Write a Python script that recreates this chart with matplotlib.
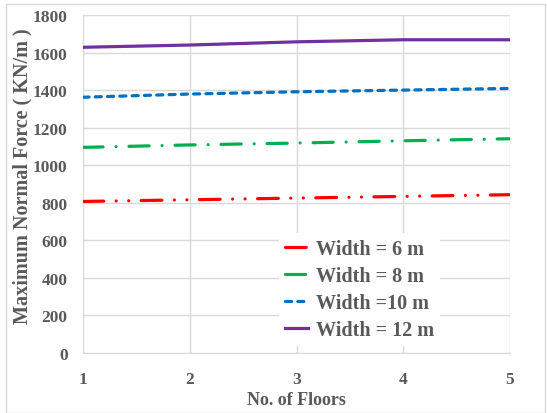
import matplotlib
matplotlib.use("Agg")
from matplotlib import pyplot as plt
from matplotlib.patches import Rectangle
from matplotlib.font_manager import FontProperties

floors = [1, 2, 3, 4, 5]
width_6 = [807, 816, 825, 834, 843]
width_8 = [1095, 1108, 1118, 1130, 1141]
width_10 = [1362, 1379, 1391, 1400, 1409]
width_12 = [1628, 1640, 1657, 1668, 1668]
labels = ["Width = 6 m", "Width = 8 m", "Width =10 m", "Width = 12 m"]

text_color = "#595959"
plt.rcParams['font.family'] = ['Liberation Serif', 'DejaVu Serif']
plt.rcParams['font.weight'] = 'bold'


def bold(size):
    return FontProperties(family='Liberation Serif', weight='bold', size=size)


fig = plt.figure(figsize=(5.47, 4.14), dpi=100)
ax = fig.add_axes([0.1517, 0.1449, 0.7807, 0.8165])

# thin frame around the whole chart
fig.patches.append(Rectangle((0.011, 0.0), 0.985, 0.988, transform=fig.transFigure,
                             fill=False, edgecolor="#d9d9d9", linewidth=1))

lw = 2.3
ax.plot(floors, width_6, color="#ff0000", lw=lw, dashes=(6.5, 3.9, 0.01, 3.9, 0.01, 3.9),
        dash_capstyle='round', label=labels[0])
ax.plot(floors, width_8, color="#00b050", lw=lw, dashes=(6.3, 4.05, 0.01, 4.05),
        dash_capstyle='round', label=labels[1])
ax.plot(floors, width_10, color="#0070c0", lw=lw, dashes=(1.9, 1.95),
        dash_capstyle='round', label=labels[2])
ax.plot(floors, width_12, color="#7030a0", lw=lw, label=labels[3])

ax.set_xlim(1, 5)
ax.set_ylim(0, 1800)
ax.set_xticks(floors)
ax.set_yticks(range(0, 1801, 200))
ax.grid(True, color="#d9d9d9", linewidth=1)
ax.set_axisbelow(True)
for side in ['top', 'right', 'left']:
    ax.spines[side].set_visible(False)
ax.spines['bottom'].set_color("#d9d9d9")
ax.tick_params(length=0, colors=text_color)
ax.tick_params(axis='y', pad=11)
ax.tick_params(axis='x', pad=13)
for lab in ax.get_xticklabels() + ax.get_yticklabels():
    lab.set_fontproperties(bold(12.5))

ax.set_xlabel("No. of Floors", fontproperties=bold(13), color=text_color, labelpad=3)
ax.set_ylabel("Maximum Normal Force ( KN/m )", fontproperties=bold(14.5), color=text_color)
ax.yaxis.set_label_coords(-0.119, 0.527)

leg = ax.legend(loc='upper left', bbox_to_anchor=(0.436, 0.386), frameon=True,
                prop=bold(14.5), handlelength=1.14, handletextpad=0.4, labelspacing=0.36,
                borderpad=0.3, fancybox=False)
leg.get_frame().set_edgecolor('none')
leg.get_frame().set_facecolor('white')
leg.get_frame().set_alpha(1)
for t in leg.get_texts():
    t.set_color(text_color)

fig.savefig("out.png", dpi=100)
